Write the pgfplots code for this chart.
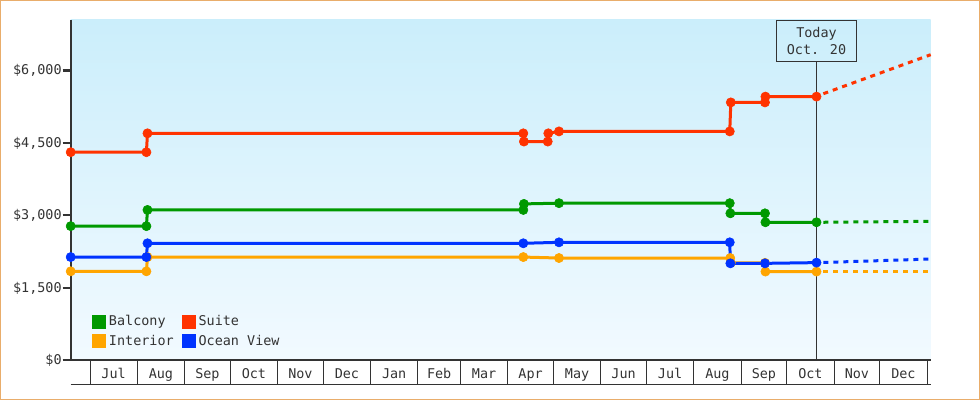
\documentclass[border=0pt]{standalone}
\usepackage{fontspec}
\setmainfont{DejaVu Sans Mono}
\usepackage{pgfplots}
\pgfplotsset{compat=1.18}
\definecolor{balcony}{HTML}{009900}
\definecolor{suite}{HTML}{FF3300}
\definecolor{interior}{HTML}{FFA500}
\definecolor{oceanview}{HTML}{0033FF}
\definecolor{axisgray}{HTML}{333333}
\definecolor{bgtop}{HTML}{CBEEFB}
\definecolor{bgbot}{HTML}{F2FAFF}
\definecolor{framecol}{HTML}{E9AD6B}
\newcommand\cf{\fontsize{13.5}{17.3}\selectfont}

% day 0 = Jul 1 of the first year; prices in dollars
\pgfplotstableread{
day price
-12.66 2780
37.0 2780
37.7 3115
284.2 3115
284.6 3240
307.6 3255
419.6 3255
420.0 3045
442.7 3045
443.0 2860
476.5 2860
}\balconytab
\pgfplotstableread{
day price
-12.66 4310
37.0 4310
37.7 4700
284.2 4700
284.6 4530
300.2 4530
300.6 4700
307.6 4740
419.6 4740
420.3 5340
442.7 5340
443.0 5460
476.5 5460
}\suitetab
\pgfplotstableread{
day price
-12.66 1845
37.0 1845
37.7 2140
284.2 2140
307.6 2120
419.9 2120
420.3 2020
442.7 2020
443.0 1840
476.5 1840
}\interiortab
\pgfplotstableread{
day price
-12.66 2140
37.0 2140
37.7 2425
284.2 2425
307.6 2445
419.6 2445
420.0 2010
442.7 2010
476.5 2025
}\oceantab

\begin{document}
\begin{tikzpicture}
\useasboundingbox (0,0) rectangle (980bp,400bp);
\draw[framecol, line width=1bp] (0.5bp,0.5bp) rectangle (979.5bp,399.5bp);
\begin{axis}[
  name=ax, at={(70.7bp,39.5bp)}, anchor=south west,
  scale only axis, width=860bp, height=340.5bp,
  xmin=-12.66, xmax=551.4, ymin=0, ymax=7045,
  axis x line*=bottom, axis y line*=left,
  axis background/.style={top color=bgtop, bottom color=bgbot},
  axis line style={draw=axisgray, line width=2bp},
  tick align=outside, major tick length=8bp,
  ytick={0,1500,3000,4500,6000},
  yticklabels={{\$0},{\$1,500},{\$3,000},{\$4,500},{\$6,000}},
  ytick style={draw=axisgray, line width=2bp},
  yticklabel style={xshift=2.5bp},
  xtick={0,31,62,92,123,153,184,215,243,274,304,335,365,396,427,457,488,518,549},
  xticklabels={Jul,Aug,Sep,Oct,Nov,Dec,Jan,Feb,Mar,Apr,May,Jun,Jul,Aug,Sep,Oct,Nov,Dec},
  x tick label as interval,
  xticklabel style={yshift=3.5bp},
  xtick style={draw=none},
  extra x ticks={0,31,62,92,123,153,184,215,243,274,304,335,365,396,427,457,488,518,549},
  extra x tick labels={},
  extra x tick style={major tick length=24.5bp, xtick style={draw=axisgray, line width=1bp}},
  tick label style={font=\cf, text=axisgray},
  clip=false,
  legend columns=2, legend cell align=left,
  legend image code/.code={\fill[#1] (0bp,-5.4bp) rectangle (10.8bp,5.4bp); \path (12.8bp,0bp);},
  legend style={at={(axis description cs:0,0)}, anchor=south west,
    xshift=21.3bp, yshift=12bp, draw=none, fill=none, font=\cf,
    text=axisgray, inner sep=0pt, row sep=6bp,
    nodes={inner sep=1bp},
    /tikz/every even column/.append style={column sep=7bp}},
  every axis plot/.append style={line width=3bp},
]
\addplot[balcony, mark=*, mark size=4.6bp, mark options={line width=0.6bp}] table[x=day, y=price] {\balconytab};
\addplot[suite, mark=*, mark size=4.6bp, mark options={line width=0.6bp}] table[x=day, y=price] {\suitetab};
\addplot[interior, mark=*, mark size=4.6bp, mark options={line width=0.6bp}] table[x=day, y=price] {\interiortab};
\addplot[oceanview, mark=*, mark size=4.6bp, mark options={line width=0.6bp}] table[x=day, y=price] {\oceantab};
\legend{Balcony,Suite,Interior,Ocean View}
% projections after today
\addplot[forget plot, suite, dash pattern=on 5bp off 5bp] coordinates {(481,5520) (551.4,6327)};
\addplot[forget plot, balcony, dash pattern=on 5bp off 5bp] coordinates {(481,2860) (551.4,2880)};
\addplot[forget plot, interior, dash pattern=on 5bp off 5bp] coordinates {(481,1840) (551.4,1840)};
\addplot[forget plot, oceanview, dash pattern=on 5bp off 5bp] coordinates {(481,2028) (551.4,2100)};
\node[draw=axisgray, line width=1bp, anchor=north, minimum width=80.7bp,
  minimum height=40.7bp, align=center, font=\cf, text=axisgray, inner sep=0pt]
  (today) at (axis cs:476.5,7045) {Today\\Oct. 20};
\draw[axisgray, line width=1bp] (today.south) -- (axis cs:476.5,0);
\end{axis}
\draw[axisgray, line width=1bp] (ax.south west) ++(0,-24.5bp) -- ++(860bp,0);
\end{tikzpicture}
\end{document}
